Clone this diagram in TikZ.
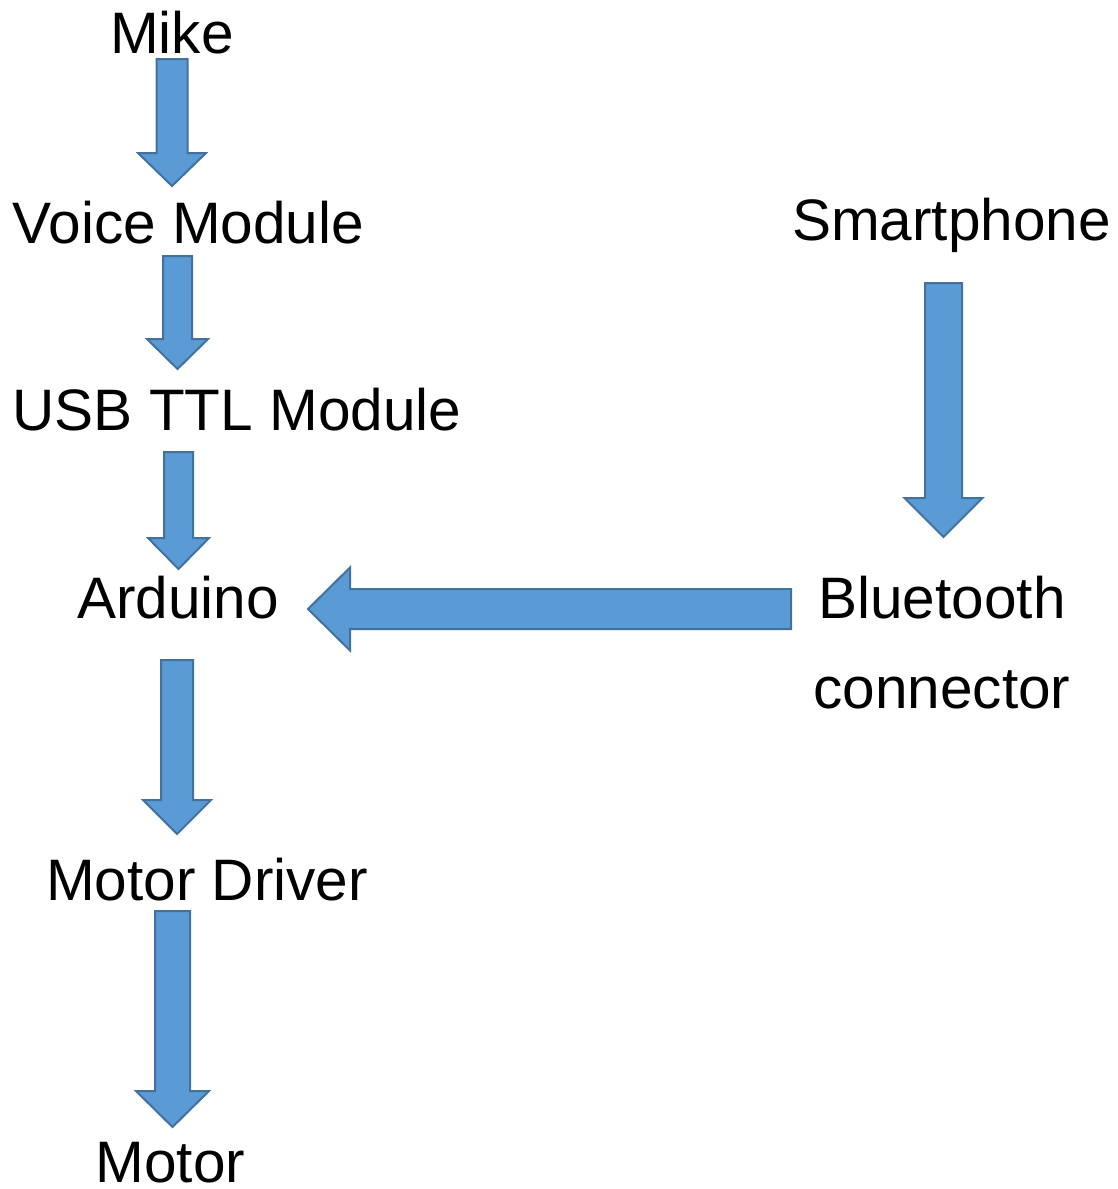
\documentclass[tikz,border=0pt]{standalone}
\usepackage{fontspec}
\setmainfont{Liberation Sans}
\usetikzlibrary{calc}
\definecolor{arrowfill}{HTML}{5B9BD5}
\definecolor{arrowline}{HTML}{41719C}
\tikzset{blk/.style={draw=arrowline, fill=arrowfill, line width=2pt, line join=miter},
	lbl/.style={inner sep=0pt, anchor=base, align=center, font=\fontsize{58.5}{90}\selectfont}}
% block arrow: tail, tip, shaft half width, head half width, head length
\newcommand{\blkarrow}[5]{%
	\coordinate (hb) at ($(#2)!#5pt!(#1)$);
	\draw[blk] ($(#1)!#3pt!90:(#2)$) -- ($(hb)!#3pt!90:(#2)$) -- ($(hb)!#4pt!90:(#2)$) -- (#2)
		-- ($(hb)!#4pt!-90:(#2)$) -- ($(hb)!#3pt!-90:(#2)$) -- ($(#1)!#3pt!-90:(#2)$) -- cycle;}
\begin{document}
\begin{tikzpicture}[x=1pt,y=-1pt]
	\useasboundingbox (0,0) rectangle (1118,1189);
	\node [lbl] (mike) at (172,53) {Mike};
	\node [lbl] (voice) at (188.5,243) {Voice Module};
	\node [lbl] (usbttl) at (237,430) {USB TTL Module};
	\node [lbl] (arduino) at (178,618) {Arduino};
	\node [lbl] (driver) at (207,900) {Motor Driver};
	\node [lbl] (motor) at (170.5,1182) {Motor};
	\node [lbl] (phone) at (951.5,240) {Smartphone};
	\node [lbl] (bt) at (942,708) {Bluetooth\\connector};
	\coordinate (t1) at (172,59);
	\coordinate (p1) at (172,186);
	\coordinate (t2) at (177.5,256);
	\coordinate (p2) at (177.5,369);
	\coordinate (t3) at (178.5,452);
	\coordinate (p3) at (178.5,569);
	\coordinate (t4) at (177,660);
	\coordinate (p4) at (177,834);
	\coordinate (t5) at (172.5,911);
	\coordinate (p5) at (172.5,1127);
	\coordinate (t6) at (943.5,283);
	\coordinate (p6) at (943.5,537);
	\coordinate (t7) at (791,609);
	\coordinate (p7) at (308,609);
	\blkarrow{t1}{p1}{15.5}{34}{33}
	\blkarrow{t2}{p2}{14.5}{30.5}{30}
	\blkarrow{t3}{p3}{14.5}{30.5}{31}
	\blkarrow{t4}{p4}{16}{34}{34}
	\blkarrow{t5}{p5}{17.5}{36.5}{36}
	\blkarrow{t6}{p6}{18.5}{39}{39}
	\blkarrow{t7}{p7}{20}{41.5}{42}
\end{tikzpicture}
\end{document}
